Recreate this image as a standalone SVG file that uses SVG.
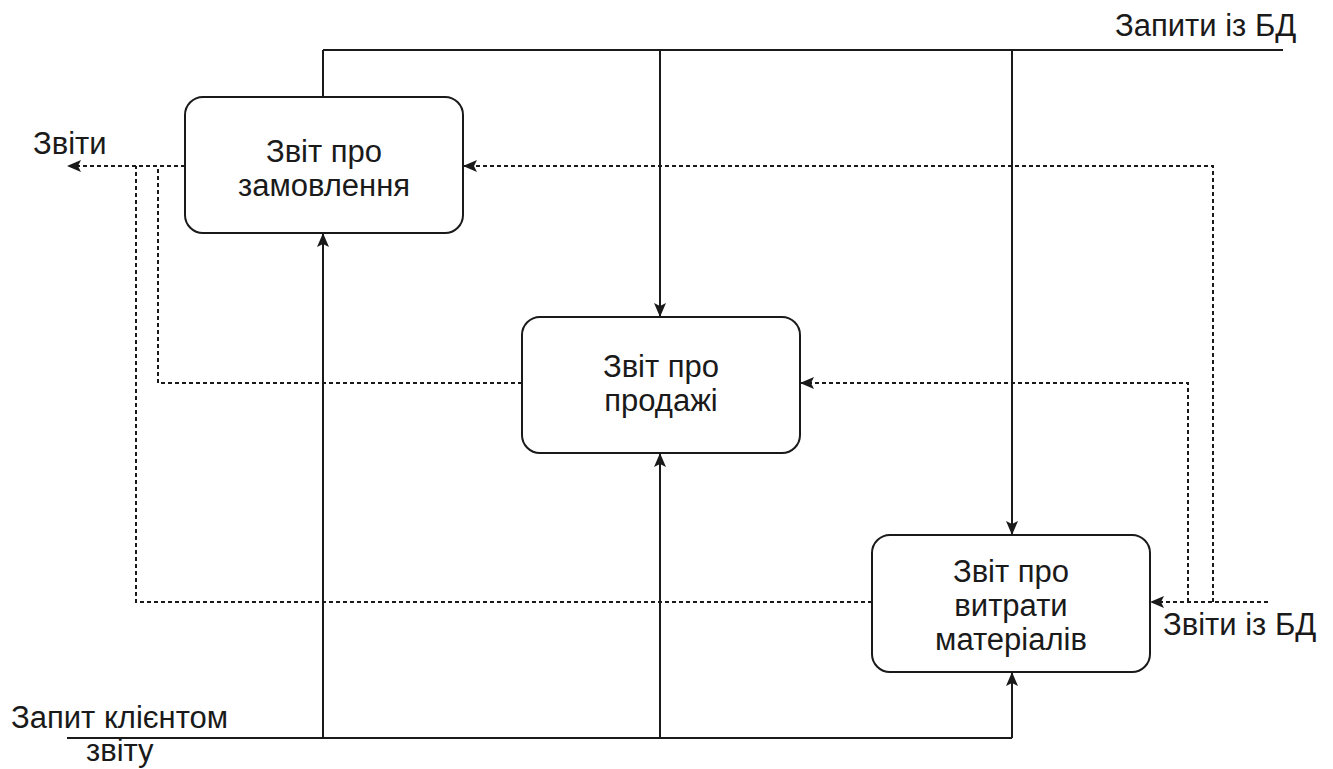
<svg xmlns="http://www.w3.org/2000/svg" width="1333" height="769" viewBox="0 0 1333 769">
  <style>
    .box { fill: #ffffff; stroke: #1a1a1a; stroke-width: 2; }
    .solid { fill: none; stroke: #1a1a1a; stroke-width: 2; }
    .dash { fill: none; stroke: #1a1a1a; stroke-width: 2; stroke-dasharray: 4 3; }
    .lbl { font-family: "Liberation Sans", Arial, sans-serif; font-size: 31px; fill: #1a1a1a; }
    .mid { text-anchor: middle; }
  </style>
  <defs>
    <marker id="arrow" viewBox="0 0 14 12" refX="14" refY="6" markerWidth="14" markerHeight="12" markerUnits="userSpaceOnUse" orient="auto">
      <path d="M0,0 L14,6 L0,12 L3,6 Z" fill="#1a1a1a"/>
    </marker>
  </defs>
  <rect width="1333" height="769" fill="#ffffff"/>

  <g id="connectors">
    <!-- database queries from the top -->
    <path class="solid" d="M323,50 H1283"/>
    <path class="solid" d="M323,50 V97"/>
    <path class="solid" d="M660,50 V317" marker-end="url(#arrow)"/>
    <path class="solid" d="M1012,50 V535" marker-end="url(#arrow)"/>
    <!-- client request from the bottom -->
    <path class="solid" d="M67,738 H1012"/>
    <path class="solid" d="M323,738 V233" marker-end="url(#arrow)"/>
    <path class="solid" d="M660,738 V453" marker-end="url(#arrow)"/>
    <path class="solid" d="M1012,738 V672" marker-end="url(#arrow)"/>
    <!-- reports out to the left -->
    <path class="dash" d="M185,166 H67" marker-end="url(#arrow)"/>
    <path class="dash" d="M522,383 H158 V166"/>
    <path class="dash" d="M872,602 H136 V166"/>
    <!-- database reports in from the right -->
    <path class="dash" d="M1268,602 H1150" marker-end="url(#arrow)"/>
    <path class="dash" d="M1188,602 V383 H800" marker-end="url(#arrow)"/>
    <path class="dash" d="M1213,602 V166 H463" marker-end="url(#arrow)"/>
  </g>

  <g id="node-orders">
    <rect class="box" x="185" y="97" width="278" height="136" rx="18"/>
    <text class="lbl mid" x="324" y="162">Звіт про</text>
    <text class="lbl mid" x="324" y="196">замовлення</text>
  </g>

  <g id="node-sales">
    <rect class="box" x="522" y="317" width="278" height="136" rx="18"/>
    <text class="lbl mid" x="661" y="377">Звіт про</text>
    <text class="lbl mid" x="661" y="411">продажі</text>
  </g>

  <g id="node-materials">
    <rect class="box" x="872" y="535" width="278" height="137" rx="18"/>
    <text class="lbl mid" x="1011" y="582">Звіт про</text>
    <text class="lbl mid" x="1011" y="616">витрати</text>
    <text class="lbl mid" x="1011" y="650">матеріалів</text>
  </g>

  <g id="labels">
    <text class="lbl" x="1115" y="36">Запити із БД</text>
    <text class="lbl" x="33" y="154">Звіти</text>
    <text class="lbl" x="1163" y="635">Звіти із БД</text>
    <text class="lbl" x="11" y="728">Запит клієнтом</text>
    <text class="lbl" x="86" y="761">звіту</text>
  </g>
</svg>
